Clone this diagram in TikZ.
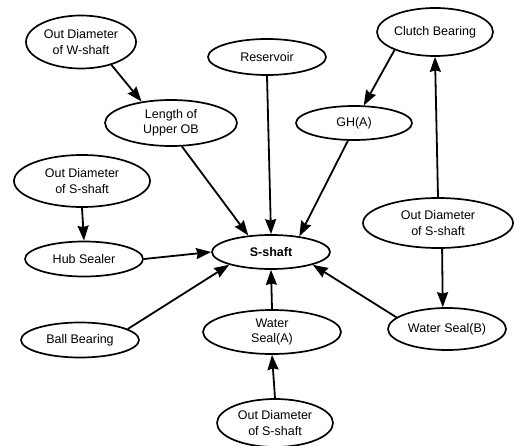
\documentclass[tikz,border=0pt]{standalone}
\usepackage{fontspec}
\setmainfont{Liberation Sans}
\usetikzlibrary{shapes.geometric,arrows.meta}
\begin{document}
\begin{tikzpicture}[x=1pt,y=-1pt,
  factor/.style={ellipse,draw,line width=1.7pt,inner sep=0pt,align=center,
    font=\fontsize{12.5}{15.5}\selectfont},
  link/.style={line width=1.8pt,-{Stealth[length=15pt,width=11pt,inset=1.5pt]}}]
\useasboundingbox (0,0) rectangle (521,446);

% factors
\node[factor,minimum width=110pt,minimum height=53pt] (odw) at (81,42) {Out Diameter\\of W-shaft};
\node[factor,minimum width=132pt,minimum height=46pt] (luob) at (171,123) {Length of\\Upper OB};
\node[factor,minimum width=118pt,minimum height=36pt] (res) at (267,57) {Reservoir};
\node[factor,minimum width=116pt,minimum height=48pt] (clutch) at (435,32) {Clutch Bearing};
\node[factor,minimum width=116pt,minimum height=34pt] (gh) at (354,123) {GH(A)};
\node[factor,minimum width=136pt,minimum height=52pt] (odl) at (82,181) {Out Diameter\\of S-shaft};
\node[factor,minimum width=118pt,minimum height=35pt] (hub) at (84,259) {Hub Sealer};
\node[factor,minimum width=118pt,minimum height=34pt] (s) at (271,252) {\textbf{S-shaft}};
\node[factor,minimum width=150pt,minimum height=50pt] (odr) at (438,223) {Out Diameter\\of S-shaft};
\node[factor,minimum width=118pt,minimum height=35pt] (ball) at (80,340) {Ball Bearing};
\node[factor,minimum width=138pt,minimum height=44pt] (wsa) at (272,332) {Water\\Seal(A)};
\node[factor,minimum width=118pt,minimum height=42pt] (wsb) at (447,329) {Water Seal(B)};
\node[factor,minimum width=116pt,minimum height=48pt] (odb) at (275,423) {Out Diameter\\of S-shaft};

% influences
\draw[link] (odw.323) -- (luob.144);
\draw[link] (luob.295) -- (s.144);
\draw[link] (res.south) -- (s.north);
\draw[link] (clutch.204) -- (gh.61);
\draw[link] (gh.251) -- (s.29);
\draw[link] (odr.north) -- (clutch.south);
\draw[link] (odr.-81) -- (wsb.101);
\draw[link] (odl.south) -- (hub.north);
\draw[link] (hub.east) -- (s.west);
\draw[link] (ball.13) -- (s.197);
\draw[link] (wsa.north) -- (s.south);
\draw[link] (wsb.167) -- (s.343);
\draw[link] (odb.north) -- (wsa.south);
\end{tikzpicture}
\end{document}
